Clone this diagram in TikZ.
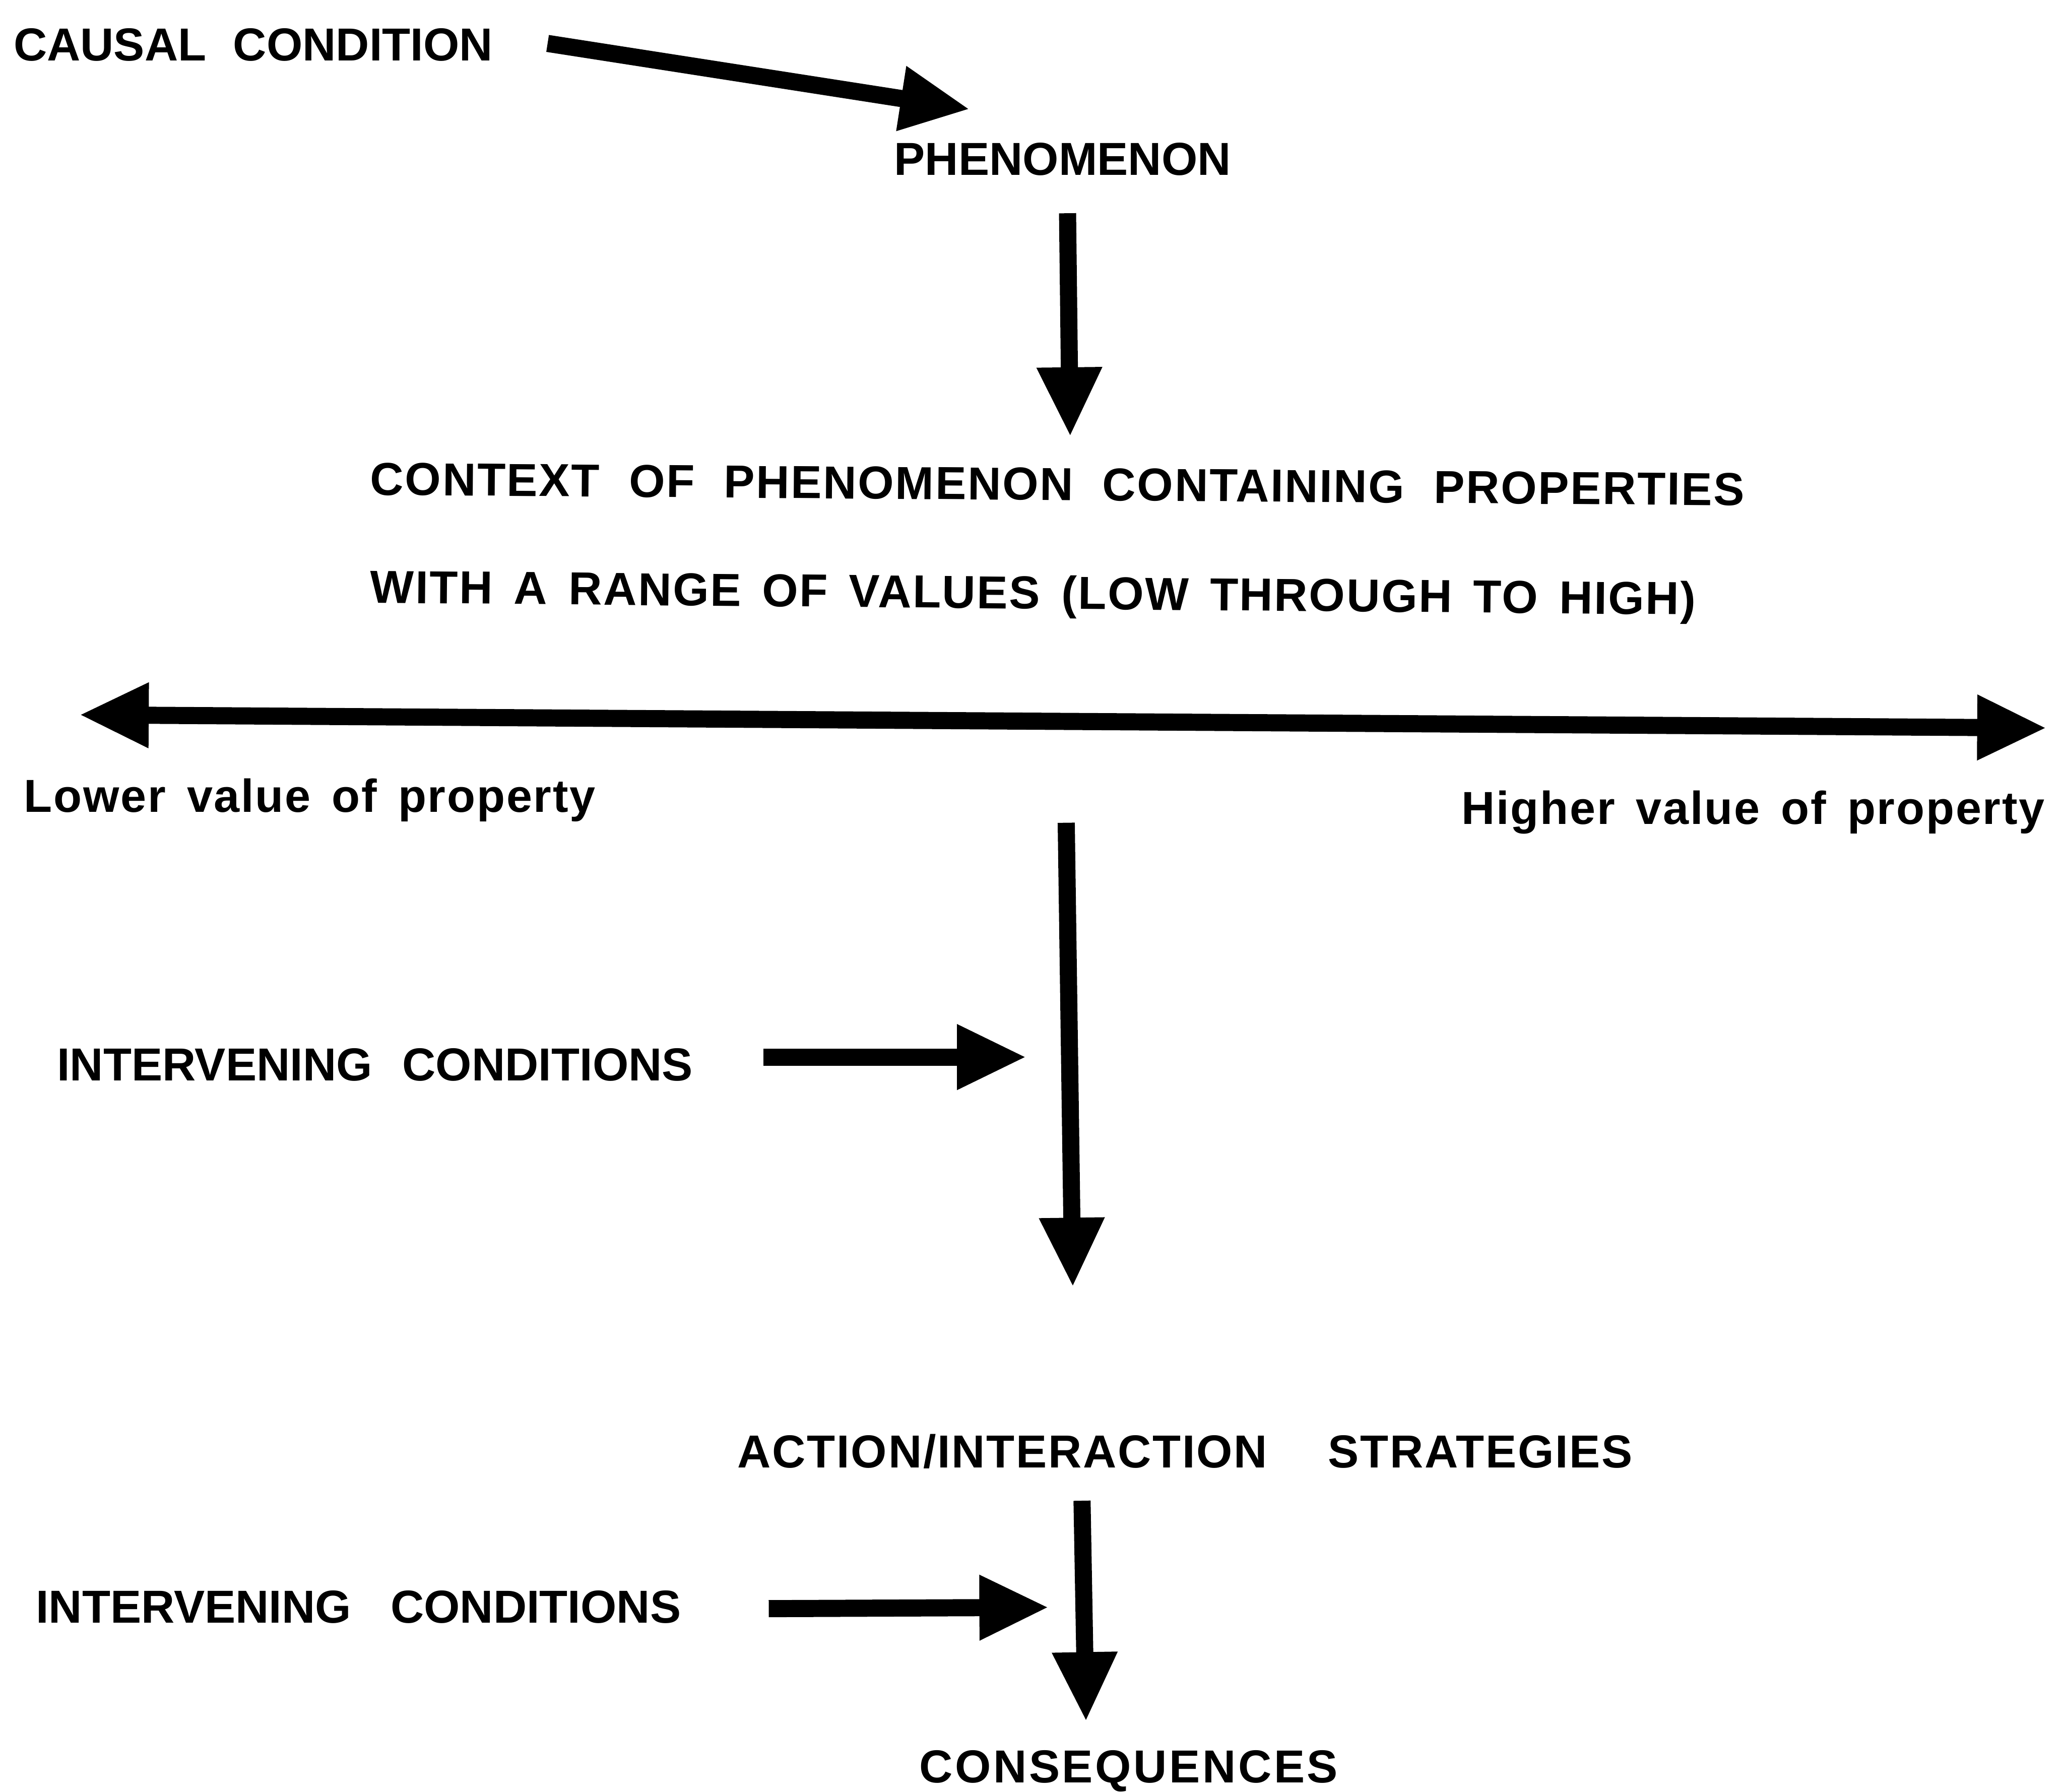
\documentclass[tikz,border=0pt]{standalone}
\usepackage{fontspec}
\setmainfont{Liberation Sans}
\newfontfamily\lblfont{Liberation Sans}[LetterSpace=3]
\newfontfamily\widefont{Liberation Sans}[LetterSpace=5]
\usetikzlibrary{arrows.meta}
\newdimen\pxu
\pxu=0.02cm
% stretch the word spaces of a label to a given width (in picture units)
\newcommand\spreadto[2]{\makebox[#1\pxu][s]{#2}}
\begin{document}
\begin{tikzpicture}[x=0.02cm,y=-0.02cm,
  lbl/.style={inner sep=0, anchor=base west, font=\lblfont\bfseries\fontsize{20}{24}\selectfont},
  tightlbl/.style={inner sep=0, anchor=base west, font=\rmfamily\bfseries\fontsize{20}{24}\selectfont},
  widelbl/.style={inner sep=0, anchor=base west, font=\widefont\bfseries\fontsize{20}{24}\selectfont},
  bigtip/.tip={Triangle[length=1.06cm,width=0.92cm]},
  flow/.style={line width=0.26cm, -bigtip},
  twoway/.style={line width=0.26cm, bigtip-bigtip}]
\useasboundingbox (0,0) rectangle (1568,1361);

% labels
\node[tightlbl] (causal) at (10,46) {\spreadto{364}{CAUSAL CONDITION}};
\node[tightlbl] (phen) at (679,133) {PHENOMENON};
\node[lbl, rotate=-0.44] (ctx1) at (281,376) {\spreadto{1044}{CONTEXT OF PHENOMENON CONTAINING PROPERTIES}};
\node[lbl, rotate=-0.51] (ctx2) at (281,458) {\spreadto{1007}{WITH A RANGE OF VALUES (LOW THROUGH TO HIGH)}};
\node[lbl] (low) at (18,617) {\spreadto{434}{Lower value of property}};
\node[lbl] (high) at (1110,626) {\spreadto{443}{Higher value of property}};
\node[tightlbl] (int1) at (43,821) {\spreadto{483}{INTERVENING CONDITIONS}};
\node[lbl] (act) at (560,1115) {\spreadto{680}{ACTION/INTERACTION STRATEGIES}};
\node[tightlbl] (int2) at (27,1233) {\spreadto{490}{INTERVENING CONDITIONS}};
\node[widelbl] (cons) at (698,1354) {CONSEQUENCES};

% connector end points
\coordinate (causal-out) at (416,33);
\coordinate (phen-in) at (737,83);
\coordinate (phen-out) at (811,162);
\coordinate (ctx-in) at (813,332);
\coordinate (range-low) at (60,543);
\coordinate (range-high) at (1555,553);
\coordinate (ctx-out) at (810,625);
\coordinate (act-in) at (815,978);
\coordinate (int1-out) at (580,803);
\coordinate (int1-in) at (780,803);
\coordinate (act-out) at (822,1140);
\coordinate (cons-in) at (825,1308);
\coordinate (int2-out) at (584,1222);
\coordinate (int2-in) at (797,1221);

% connectors
\draw[flow] (causal-out) -- (phen-in);
\draw[flow] (phen-out) -- (ctx-in);
\draw[twoway] (range-low) -- (range-high);
\draw[flow] (ctx-out) -- (act-in);
\draw[flow] (int1-out) -- (int1-in);
\draw[flow] (act-out) -- (cons-in);
\draw[flow] (int2-out) -- (int2-in);
\end{tikzpicture}
\end{document}
